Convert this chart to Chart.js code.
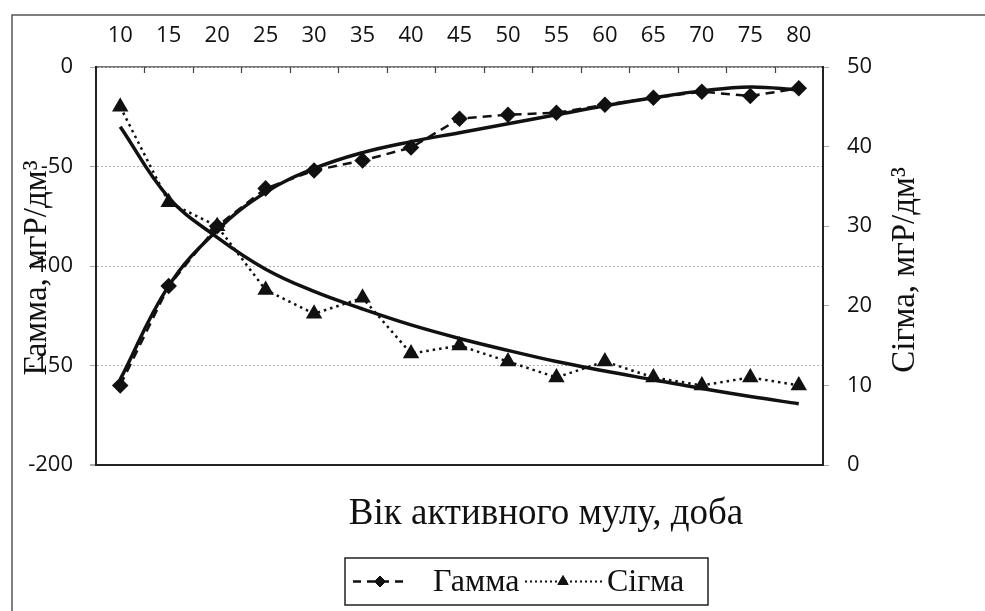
<!DOCTYPE html>
<html>
<head>
<meta charset="utf-8">
<script src="https://cdn.jsdelivr.net/npm/chart.js@4.4.1/dist/chart.umd.min.js"></script>
<style>
  html, body { margin: 0; padding: 0; background: #fff; }
  #wrap { width: 985px; height: 611px; }
</style>
</head>
<body>
<div id="wrap"><canvas id="sludgeChart" width="985" height="611"></canvas></div>
<script>
// -------------------------
// DATA
// -------------------------
const ages = ['10', '15', '20', '25', '30', '35', '40', '45', '50', '55', '60', '65', '70', '75', '80'];
const gamma = [-160, -110, -80, -61, -52, -47, -40.5, -26, -24, -23, -19, -15.5, -12.4, -14.6, -10.7];
const sigma = [45, 33, 30, 22, 19, 21, 14, 15, 13, 11, 13, 11, 10, 11, 10];
// trend curves, as drawn in the figure
const gammaTrend = [-157, -110, -82, -63, -51, -43, -37.5, -33, -28.5, -24, -19.5, -15.5, -12, -10, -11.5];
const sigmaTrend = [42.5, 33.6, 28.6, 24.6, 21.8, 19.6, 17.6, 15.9, 14.4, 13.0, 11.8, 10.7, 9.6, 8.6, 7.7];

const xTitle = 'Вік активного мулу, доба';
const gammaTitle = 'Гамма, мгР/дм³';
const sigmaTitle = 'Сігма, мгР/дм³';

const serif = '"Liberation Serif", "Times New Roman", serif';
const sans = '"Open Sans", "DejaVu Sans", sans-serif';
const ink = '#111';

// -------------------------
// HELPERS
// -------------------------
function vText(ctx, text, x, y) {
    ctx.save();
    ctx.translate(x, y);
    ctx.rotate(-Math.PI / 2);
    ctx.textAlign = 'center';
    ctx.textBaseline = 'middle';
    ctx.fillText(text, 0, 0);
    ctx.restore();
}

function marker(ctx, style, radius, x, y) {
    ctx.save();
    ctx.fillStyle = ink;
    ctx.strokeStyle = ink;
    ctx.lineWidth = 1;
    Chart.helpers.drawPoint(ctx, { pointStyle: style, radius: radius, rotation: 0, borderWidth: 1 }, x, y);
    ctx.restore();
}

// small ticks on the top axis, pointing into the plot
const topTicks = {
    id: 'topTicks',
    afterDatasetsDraw(chart) {
        const xs = chart.scales.x;
        const ctx = chart.ctx;
        const top = chart.chartArea.top;
        const step = xs.getPixelForValue(1) - xs.getPixelForValue(0);
        ctx.save();
        ctx.strokeStyle = '#444';
        ctx.lineWidth = 1.2;
        for (let i = 1; i < ages.length; i++) {
            const px = Math.round(xs.getPixelForValue(i) - step / 2) + 0.5;
            ctx.beginPath();
            ctx.moveTo(px, top);
            ctx.lineTo(px, top + 6);
            ctx.stroke();
        }
        ctx.restore();
    }
};

// frame, axis titles and legend box
const decorations = {
    id: 'decorations',
    afterDraw(chart) {
        const ctx = chart.ctx;

        // outer frame (only top and left edges are inside the picture)
        ctx.save();
        ctx.strokeStyle = '#555';
        ctx.lineWidth = 1.5;
        ctx.beginPath();
        ctx.moveTo(12, 611);
        ctx.lineTo(12, 15);
        ctx.lineTo(985, 15);
        ctx.stroke();
        ctx.restore();

        // axis titles
        ctx.save();
        ctx.fillStyle = ink;
        ctx.textAlign = 'center';
        ctx.textBaseline = 'middle';
        ctx.font = '37px ' + serif;
        ctx.fillText(xTitle, 546, 514);
        ctx.font = '33px ' + serif;
        vText(ctx, gammaTitle, 37, 268);
        vText(ctx, sigmaTitle, 905, 270);
        ctx.restore();

        // legend
        const box = { x: 345, y: 558, w: 363, h: 47 };
        const cy = box.y + box.h / 2;
        ctx.save();
        ctx.strokeStyle = '#222';
        ctx.lineWidth = 1.5;
        ctx.strokeRect(box.x, box.y, box.w, box.h);

        ctx.strokeStyle = ink;
        ctx.lineWidth = 2.5;
        ctx.setLineDash([8, 6]);
        ctx.beginPath();
        ctx.moveTo(353, cy);
        ctx.lineTo(407, cy);
        ctx.stroke();
        ctx.setLineDash([2, 3]);
        ctx.lineWidth = 2;
        ctx.beginPath();
        ctx.moveTo(525, cy);
        ctx.lineTo(602, cy);
        ctx.stroke();
        ctx.setLineDash([]);
        ctx.restore();

        marker(ctx, 'rectRot', 5.5, 380, cy);
        marker(ctx, 'triangle', 6, 563, cy);

        ctx.save();
        ctx.fillStyle = ink;
        ctx.font = '32px ' + serif;
        ctx.textBaseline = 'middle';
        ctx.textAlign = 'left';
        ctx.fillText(chart.data.datasets[0].label, 433, cy + 1);
        ctx.fillText(chart.data.datasets[1].label, 607, cy + 1);
        ctx.restore();
    }
};

// -------------------------
// CHART
// -------------------------
new Chart(document.getElementById('sludgeChart'), {
    type: 'line',
    data: {
        labels: ages,
        datasets: [
            {
                label: 'Гамма',
                data: gamma,
                yAxisID: 'y',
                borderColor: ink,
                backgroundColor: ink,
                borderWidth: 2.5,
                borderDash: [9, 6],
                pointStyle: 'rectRot',
                pointRadius: 6.5,
                pointBackgroundColor: ink,
                pointBorderColor: ink,
                tension: 0,
                order: 2
            },
            {
                label: 'Сігма',
                data: sigma,
                yAxisID: 'y1',
                borderColor: ink,
                backgroundColor: ink,
                borderWidth: 2.5,
                borderDash: [2.5, 4],
                pointStyle: 'triangle',
                pointRadius: 7,
                pointBackgroundColor: ink,
                pointBorderColor: ink,
                tension: 0,
                order: 2
            },
            {
                label: 'gamma trend',
                data: gammaTrend,
                yAxisID: 'y',
                borderColor: ink,
                borderWidth: 3.5,
                pointRadius: 0,
                tension: 0.4,
                order: 1
            },
            {
                label: 'sigma trend',
                data: sigmaTrend,
                yAxisID: 'y1',
                borderColor: ink,
                borderWidth: 3.5,
                pointRadius: 0,
                tension: 0.4,
                order: 1
            }
        ]
    },
    options: {
        responsive: false,
        animation: false,
        devicePixelRatio: 1,
        layout: { padding: { left: 0, right: 0, top: 0, bottom: 146 } },
        plugins: {
            legend: { display: false },
            title: { display: false },
            tooltip: { enabled: false }
        },
        scales: {
            x: {
                type: 'category',
                position: 'top',
                offset: true,
                afterFit(s) { s.height = 67; },
                grid: { display: false, drawTicks: false },
                border: { display: true, color: '#777', width: 1.5 },
                ticks: {
                    color: ink,
                    font: { family: sans, size: 22 },
                    padding: 18,
                    maxRotation: 0,
                    autoSkip: false
                }
            },
            y: {
                position: 'left',
                min: -200,
                max: 0,
                afterFit(s) { s.width = 96; },
                ticks: {
                    stepSize: 50,
                    color: ink,
                    font: { family: sans, size: 22 },
                    padding: 17
                },
                grid: {
                    color: c => (c.tick && c.tick.value === -200) ? '#222' : (c.tick && c.tick.value === 0 ? '#777' : '#b0b0b0'),
                    lineWidth: c => (c.tick && c.tick.value === -200) ? 2 : 1,
                    tickColor: '#aaa',
                    tickLength: 6
                },
                border: {
                    display: true,
                    color: '#222',
                    width: 2,
                    dash: c => (c.tick && c.tick.value === -200) ? [] : [2, 2]
                }
            },
            y1: {
                position: 'right',
                min: 0,
                max: 50,
                afterFit(s) { s.width = 162; },
                ticks: {
                    stepSize: 10,
                    color: ink,
                    font: { family: sans, size: 22 },
                    padding: 18
                },
                grid: {
                    drawOnChartArea: false,
                    tickColor: '#aaa',
                    tickLength: 6
                },
                border: { display: true, color: '#222', width: 2 }
            }
        }
    },
    plugins: [topTicks, decorations]
});
</script>
</body>
</html>
